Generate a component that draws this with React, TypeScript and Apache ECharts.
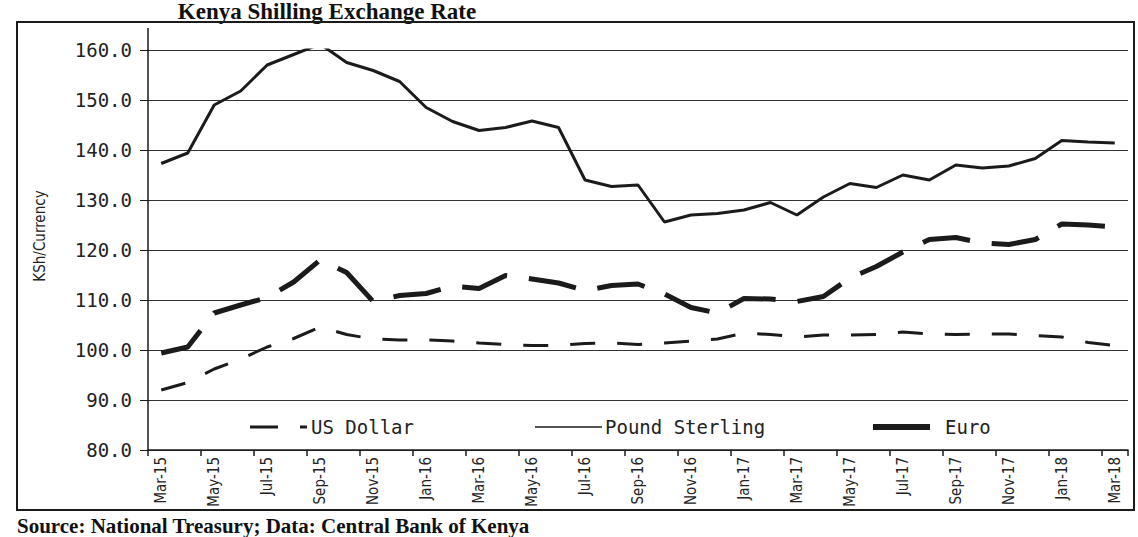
import React, { useEffect, useRef } from "react";
import * as echarts from "echarts";

const months = [
  "Mar-15", "Apr-15", "May-15", "Jun-15", "Jul-15", "Aug-15", "Sep-15", "Oct-15", "Nov-15", "Dec-15",
  "Jan-16", "Feb-16", "Mar-16", "Apr-16", "May-16", "Jun-16", "Jul-16", "Aug-16", "Sep-16", "Oct-16",
  "Nov-16", "Dec-16", "Jan-17", "Feb-17", "Mar-17", "Apr-17", "May-17", "Jun-17", "Jul-17", "Aug-17",
  "Sep-17", "Oct-17", "Nov-17", "Dec-17", "Jan-18", "Feb-18", "Mar-18",
];

const usDollar = [
  92.0, 93.5, 96.2, 98.2, 100.6, 102.3, 104.6, 103.1, 102.2, 102.0,
  102.0, 101.8, 101.4, 101.1, 100.9, 100.9, 101.3, 101.4, 101.1, 101.4,
  101.8, 102.2, 103.4, 103.1, 102.6, 103.0, 103.0, 103.1, 103.6, 103.2,
  103.1, 103.2, 103.2, 102.9, 102.6, 101.5, 100.9,
];

const poundSterling = [
  137.3, 139.4, 149.0, 151.8, 157.0, 159.1, 161.2, 157.5, 155.9, 153.7,
  148.5, 145.7, 143.9, 144.5, 145.8, 144.5, 134.0, 132.7, 133.0, 125.6,
  127.0, 127.3, 128.0, 129.5, 127.0, 130.6, 133.3, 132.5, 135.0, 134.0,
  137.0, 136.4, 136.8, 138.3, 141.9, 141.6, 141.4,
];

const euro = [
  99.4, 100.6, 107.4, 109.0, 110.5, 113.6, 118.0, 115.5, 109.7, 110.9,
  111.3, 112.8, 112.3, 114.9, 114.2, 113.4, 111.9, 112.9, 113.2, 111.2,
  108.5, 107.4, 110.3, 110.2, 109.7, 110.7, 114.4, 116.7, 119.6, 122.1,
  122.5, 121.4, 121.1, 122.1, 125.2, 125.0, 124.6,
];

const seriesNames = ["US Dollar", "Pound Sterling", "Euro"];
const titleText = "Kenya Shilling Exchange Rate";
const sourceText = "Source: National Treasury; Data: Central Bank of Kenya";
const yAxisTitle = "KSh/Currency";

const INK = "#1b1b1b";
const MONO = "'DejaVu Sans Mono', monospace";
const COND = "'DejaVu Sans Condensed', 'DejaVu Sans', sans-serif";

export default function App() {
  const ref = useRef<HTMLDivElement>(null);

  useEffect(() => {
    const chart = echarts.init(ref.current!, null, { renderer: "svg" });
    const legendFont = "19px 'DejaVu Sans Mono', monospace";
    const LEG_Y = 427;
    chart.setOption({
      animation: false,
      backgroundColor: "#ffffff",
      grid: { left: 148, right: 10, top: 50, bottom: 87, containLabel: false },
      xAxis: {
        type: "category",
        data: months,
        boundaryGap: true,
        axisLine: { lineStyle: { color: INK, width: 1.5 } },
        axisTick: { show: true, interval: 1, length: 6, lineStyle: { color: INK, width: 1.5 } },
        axisLabel: {
          interval: 1,
          rotate: 90,
          margin: 7,
          fontFamily: COND,
          fontSize: 15,
          color: "#222",
        },
        splitLine: { show: false },
      },
      yAxis: {
        type: "value",
        min: 80,
        max: 160,
        interval: 10,
        axisLine: { show: true, lineStyle: { color: INK, width: 1.5 } },
        axisTick: { show: true, length: 8, lineStyle: { color: INK, width: 1 } },
        axisLabel: {
          margin: 16,
          fontFamily: MONO,
          fontSize: 19,
          color: "#222",
          formatter: (v: number) => v.toFixed(1),
        },
        splitLine: { show: true, lineStyle: { color: "#333", width: 1 } },
      },
      series: [
        {
          name: seriesNames[0],
          type: "line",
          data: usDollar,
          symbol: "none",
          lineStyle: { color: INK, width: 3, type: [25, 22] },
          z: 3,
        },
        {
          name: seriesNames[1],
          type: "line",
          data: poundSterling,
          symbol: "none",
          lineStyle: { color: INK, width: 3 },
          z: 4,
        },
        {
          name: seriesNames[2],
          type: "line",
          data: euro,
          symbol: "none",
          lineStyle: { color: INK, width: 5, type: [48, 22] },
          z: 5,
        },
      ],
      graphic: [
        {
          type: "rect",
          shape: { x: 17, y: 22, width: 1117, height: 488 },
          style: { fill: "none", stroke: INK, lineWidth: 2 },
          silent: true,
          z: 1,
        },
        {
          type: "line",
          shape: { x1: 148, y1: 28, x2: 148, y2: 50 },
          style: { stroke: INK, lineWidth: 1.5 },
          silent: true,
        },
        // legend (drawn by hand: line keys without markers)
        {
          type: "line",
          shape: { x1: 250, y1: LEG_Y, x2: 307, y2: LEG_Y },
          style: { stroke: INK, lineWidth: 3, lineDash: [28, 22] },
          silent: true,
        },
        {
          type: "text",
          x: 311,
          y: LEG_Y,
          style: { text: seriesNames[0], textVerticalAlign: "middle", font: legendFont, fill: "#222" },
          silent: true,
        },
        {
          type: "line",
          shape: { x1: 535, y1: LEG_Y, x2: 602, y2: LEG_Y },
          style: { stroke: INK, lineWidth: 1.5 },
          silent: true,
        },
        {
          type: "text",
          x: 605,
          y: LEG_Y,
          style: { text: seriesNames[1], textVerticalAlign: "middle", font: legendFont, fill: "#222" },
          silent: true,
        },
        {
          type: "line",
          shape: { x1: 873, y1: LEG_Y, x2: 930, y2: LEG_Y },
          style: { stroke: INK, lineWidth: 6 },
          silent: true,
        },
        {
          type: "text",
          x: 945,
          y: LEG_Y,
          style: { text: seriesNames[2], textVerticalAlign: "middle", font: legendFont, fill: "#222" },
          silent: true,
        },
        {
          type: "text",
          x: 327,
          y: 0,
          style: {
            text: titleText,
            textAlign: "center",
            textVerticalAlign: "top",
            font: "bold 23px 'Liberation Serif', serif",
            fill: "#111",
          },
          silent: true,
        },
        {
          type: "text",
          x: 40,
          y: 236,
          rotation: Math.PI / 2,
          style: {
            text: yAxisTitle,
            textAlign: "center",
            textVerticalAlign: "middle",
            font: "15px 'DejaVu Sans Condensed', 'DejaVu Sans', sans-serif",
            fill: "#222",
          },
          silent: true,
        },
        {
          type: "text",
          x: 17,
          y: 536,
          style: {
            text: sourceText,
            textAlign: "left",
            textVerticalAlign: "bottom",
            font: "bold 21px 'Liberation Serif', serif",
            fill: "#111",
          },
          silent: true,
        },
      ],
    });
    return () => chart.dispose();
  }, []);

  return (
    <div
      ref={ref}
      style={{ position: "fixed", left: 0, top: 0, width: 1138, height: 537, background: "#fff" }}
    />
  );
}
